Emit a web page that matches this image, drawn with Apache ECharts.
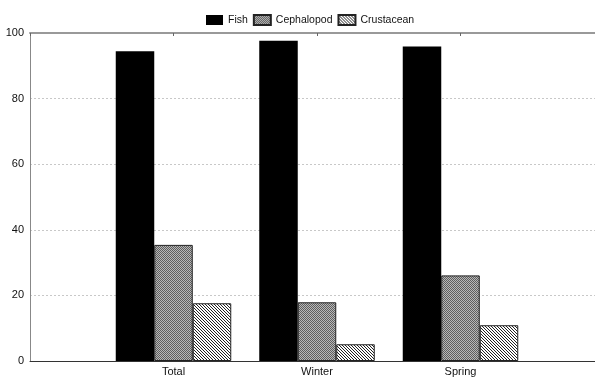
<!DOCTYPE html>
<html>
<head>
<meta charset="utf-8">
<script src="https://cdn.jsdelivr.net/npm/echarts@6/dist/echarts.min.js"></script>
<style>
  html, body { margin: 0; padding: 0; background: #fff; overflow: hidden; width: 595px; height: 378px; }
  /* the plot frame runs past the right edge of the page, so the canvas is wider than the view */
  #chart { width: 620px; height: 378px; }
</style>
</head>
<body>
<div id="chart"></div>
<script>
// Diet composition by season (percentage occurrence)
const categories = ['Total', 'Winter', 'Spring'];
const seriesNames = ['Fish', 'Cephalopod', 'Crustacean'];
const fish = [94.4, 97.6, 95.9];
const cephalopod = [35.4, 17.9, 26.1];
const crustacean = [17.6, 5.1, 10.9];
const yTicks = [0, 20, 40, 60, 80, 100];

// Small tiled fills for the patterned bars
function makeTile(size, draw) {
  const c = document.createElement('canvas');
  c.width = size; c.height = size;
  const ctx = c.getContext('2d');
  ctx.fillStyle = '#fff';
  ctx.fillRect(0, 0, size, size);
  draw(ctx);
  return c;
}
// fine checker, reads as mid grey
const checkTile = makeTile(2, ctx => {
  ctx.fillStyle = '#5e5e5e'; ctx.fillRect(0, 0, 1, 1); ctx.fillRect(1, 1, 1, 1);
  ctx.fillStyle = '#b8b8b8'; ctx.fillRect(1, 0, 1, 1); ctx.fillRect(0, 1, 1, 1);
});
// back-slash hatching
const hatchTile = makeTile(3, ctx => {
  ctx.fillStyle = '#222';
  for (let i = 0; i < 3; i++) ctx.fillRect(i, i, 1, 1);
});

// Axis slots: one empty slot at each end so the groups sit on whole steps
const axisCats = [''].concat(categories, ['']);
const pad = arr => [null].concat(arr, [null]);

const chart = echarts.init(document.getElementById('chart'), null, { renderer: 'canvas' });

const fills = ['#000', { image: checkTile, repeat: 'repeat' }, { image: hatchTile, repeat: 'repeat' }];
const values = [fish, cephalopod, crustacean];

chart.setOption({
  animation: false,
  textStyle: { fontFamily: 'Liberation Sans, Arial, sans-serif' },
  legend: {
    left: 201, top: 9,
    icon: 'rect',
    itemWidth: 17, itemHeight: 10, itemGap: 5,
    textStyle: { fontSize: 10.5, color: '#111' },
    data: seriesNames
  },
  grid: { left: 30, width: 574, top: 33, height: 328, containLabel: false },
  xAxis: [{
    type: 'category',
    data: axisCats,
    boundaryGap: false,
    position: 'bottom',
    axisLine: { lineStyle: { color: '#333', width: 1 } },
    axisTick: { show: false },
    axisLabel: { fontSize: 11, color: '#111', margin: 5, interval: 0 },
    splitLine: { show: false }
  }, {
    type: 'category',
    data: axisCats,
    boundaryGap: false,
    position: 'top',
    axisLine: { lineStyle: { color: '#999', width: 2 } },
    axisTick: { show: true, inside: true, length: 3, lineStyle: { color: '#666' } },
    axisLabel: { show: false },
    splitLine: { show: false }
  }],
  yAxis: {
    type: 'value',
    min: yTicks[0], max: yTicks[yTicks.length - 1], interval: 20,
    axisLine: { show: true, lineStyle: { color: '#888', width: 1 } },
    axisTick: { show: false },
    axisLabel: { fontSize: 11, color: '#111', margin: 6 },
    splitLine: { lineStyle: { color: '#c8c8c8', type: [2, 2], width: 1 } }
  },
  series: seriesNames.map((name, i) => ({
    name: name,
    type: 'bar',
    xAxisIndex: 0,
    data: pad(values[i]),
    barWidth: 38.5,
    barGap: '0%',
    itemStyle: { color: fills[i], borderColor: '#222', borderWidth: i === 0 ? 0 : 1 }
  }))
});
</script>
</body>
</html>
